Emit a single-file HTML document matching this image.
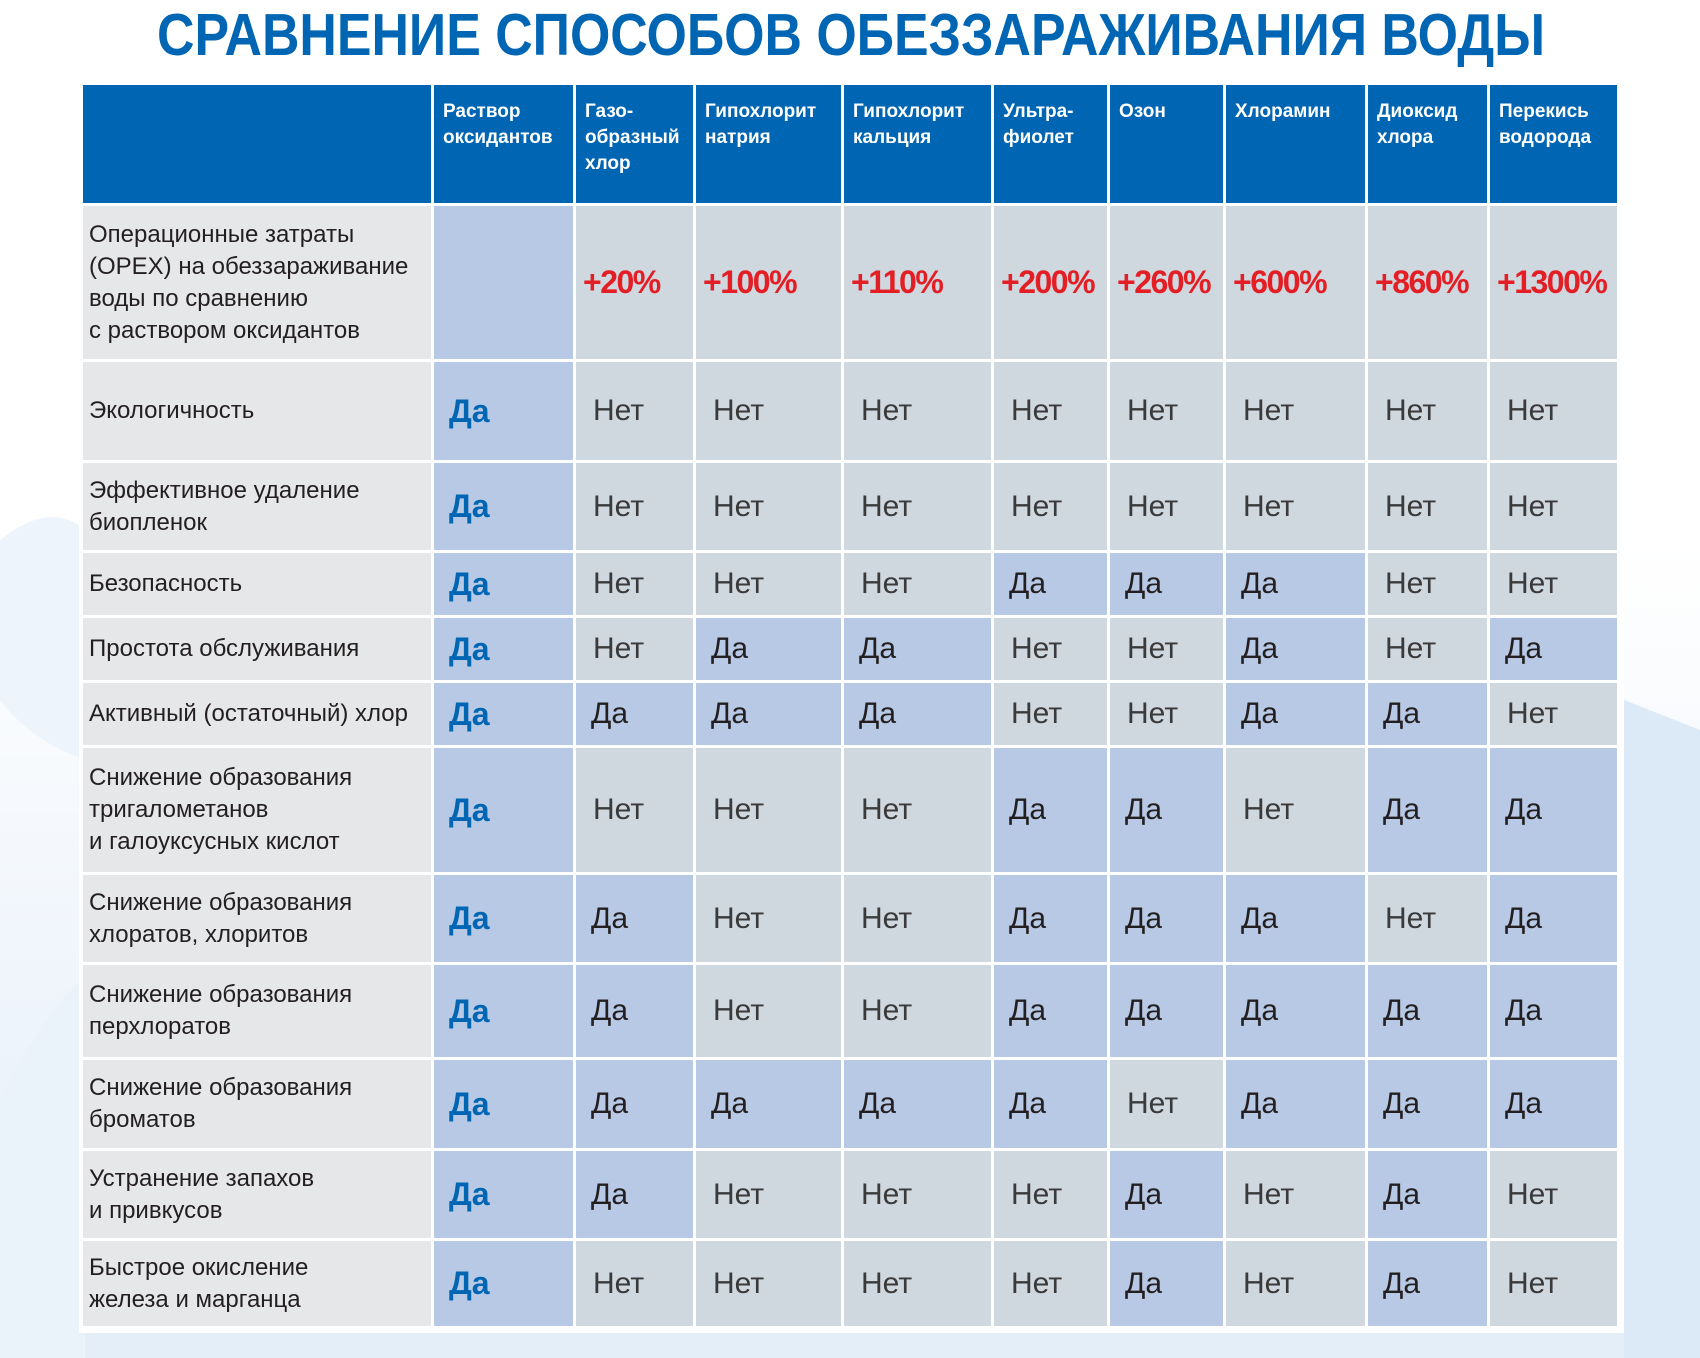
<!DOCTYPE html>
<html><head><meta charset="utf-8">
<style>
body{margin:0;width:1700px;height:1358px;overflow:hidden;font-family:"Liberation Sans","DejaVu Sans",sans-serif;}
#bg{position:absolute;left:0;top:0;width:1700px;height:1358px;background:linear-gradient(180deg,#ffffff 0%,#ffffff 40%,#eef4fb 75%,#e3eef9 100%);}
#frame{position:absolute;left:79px;top:82px;width:1545px;height:1251px;background:#fff;}
.c{position:absolute;box-sizing:border-box;display:flex;align-items:center;}
.h{background:#0066b3;color:#fff;font-weight:bold;font-size:19px;line-height:26px;align-items:flex-start;padding:14px 0 0 9px;}
.l{background:#e6e7e9;color:#231f20;font-size:24px;line-height:32px;padding-left:6px;}
.y{background:#b8c9e5;}
.n{background:#cfd7df;}
.v{color:#231f20;font-size:30px;padding-left:15px;}
.v.n{color:#3a3a3a;padding-left:17px;}
.first{color:#0066b3;font-weight:bold;font-size:32px;padding-left:15px;}
.p{color:#e31e24;font-weight:bold;font-size:32px;padding-left:7px;letter-spacing:-1.5px;}
</style></head><body>
<div id="bg">
<svg width="1700" height="1358" style="position:absolute;left:0;top:0">
<path d="M0 540 Q50 500 85 530 L85 760 Q30 740 0 700Z" fill="#eef4fb"/>
<path d="M1624 700 L1700 730 L1700 1358 L1624 1358Z" fill="#dce9f6"/>
<path d="M0 1100 Q50 1000 85 980 L85 1358 L0 1358Z" fill="#eaf2fa"/>
</svg>
</div>
<svg style="position:absolute;left:0;top:0" width="1700" height="80">
<text x="157" y="55" textLength="1388" lengthAdjust="spacingAndGlyphs" font-family="Liberation Sans, sans-serif" font-weight="bold" font-size="59" fill="#0066b3">СРАВНЕНИЕ СПОСОБОВ ОБЕЗЗАРАЖИВАНИЯ ВОДЫ</text>
</svg>
<div id="frame"></div>
<div id="table"></div>
<script>
const methods=["Раствор<br>оксидантов","Газо-<br>образный<br>хлор","Гипохлорит<br>натрия","Гипохлорит<br>кальция","Ультра-<br>фиолет","Озон","Хлорамин","Диоксид<br>хлора","Перекись<br>водорода"];
const opex=["","+20%","+100%","+110%","+200%","+260%","+600%","+860%","+1300%"];
const criteria=["Экологичность","Эффективное удаление<br>биопленок","Безопасность","Простота обслуживания","Активный (остаточный) хлор","Снижение образования<br>тригалометанов<br>и галоуксусных кислот","Снижение образования<br>хлоратов, хлоритов","Снижение образования<br>перхлоратов","Снижение образования<br>броматов","Устранение запахов<br>и привкусов","Быстрое окисление<br>железа и марганца"];
const Y=1,N=0;
const values=[
[Y,N,N,N,N,N,N,N,N],
[Y,N,N,N,N,N,N,N,N],
[Y,N,N,N,Y,Y,Y,N,N],
[Y,N,Y,Y,N,N,Y,N,Y],
[Y,Y,Y,Y,N,N,Y,Y,N],
[Y,N,N,N,Y,Y,N,Y,Y],
[Y,Y,N,N,Y,Y,Y,N,Y],
[Y,Y,N,N,Y,Y,Y,Y,Y],
[Y,Y,Y,Y,Y,N,Y,Y,Y],
[Y,Y,N,N,N,Y,N,Y,N],
[Y,N,N,N,N,Y,N,Y,N]];
const colX=[83,434,576,696,844,994,1110,1226,1368,1490,1620];
const rowY=[85,206,362,463,553,618,683,748,875,965,1060,1151,1241,1329];
const T=document.getElementById('table');
function cell(x0,x1,y0,y1,cls,html){
 const d=document.createElement('div');
 d.className='c '+cls;
 d.style.left=x0+'px';d.style.top=y0+'px';
 d.style.width=(x1-x0-3)+'px';d.style.height=(y1-y0-3)+'px';
 d.innerHTML=html;T.appendChild(d);return d;}
let e=cell(colX[0],colX[1],rowY[0],rowY[1],'h','');


methods.forEach((m,i)=>{
 const d=cell(colX[i+1],colX[i+2],rowY[0],rowY[1],'h',m);
 
 
});
e=cell(colX[0],colX[1],rowY[1],rowY[2],'l','Операционные затраты<br>(OPEX) на обеззараживание<br>воды по сравнению<br>с раствором оксидантов');


opex.forEach((v,i)=>{
 const d=cell(colX[i+1],colX[i+2],rowY[1],rowY[2],(i==0?'y':'n')+' p',v);
 
 
});
criteria.forEach((c,r)=>{
 const y0=rowY[r+2],y1=rowY[r+3];
 const l=cell(colX[0],colX[1],y0,y1,'l',c);
 
 
 values[r].forEach((v,i)=>{
  const cls=(v?'y':'n')+(i==0?' first':' v');
  const d=cell(colX[i+1],colX[i+2],y0,y1,cls,v?'Да':'Нет');
  
  
 });
});
</script>
</body></html>
